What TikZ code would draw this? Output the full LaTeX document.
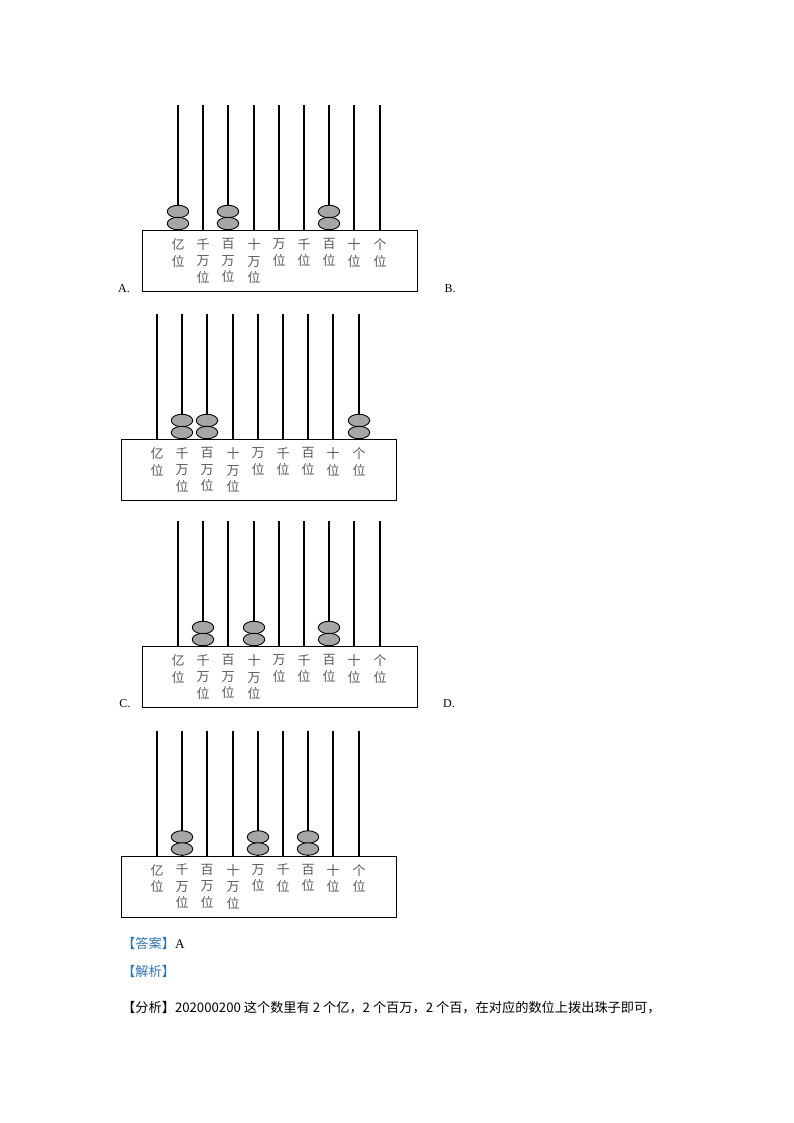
\documentclass[tikz,border=0pt]{standalone}
\usepackage{fontspec}
\setmainfont{Liberation Serif}
\newfontfamily\cjk{Noto Sans CJK SC}
\usepackage{xcolor}
\usetikzlibrary{positioning,shapes.geometric}
\definecolor{ansblue}{RGB}{46,116,181}
\definecolor{labgray}{RGB}{89,89,89}
\definecolor{beadgray}{RGB}{166,166,166}

% one abacus: name, left x, top y of the frame, rods with beads
\newcommand{\suanpan}[4]{%
  \node[frame,anchor=north west] (#1) at (#2,#3) {};
  \foreach \i/\t in {0/{亿\\位},1/{千\\万\\位},2/{百\\万\\位},3/{十\\万\\位},4/{万\\位},5/{千\\位},6/{百\\位},7/{十\\位},8/{个\\位}}{
    \coordinate (#1-t\i) at ({round(#2+36.3+25.2*\i)},{#3-125});
    \coordinate (#1-b\i) at ({round(#2+36.3+25.2*\i)},#3);
    \draw[rod] (#1-t\i) -- (#1-b\i);
    \node[lab] (#1-l\i) at ({round(#2+36.3+25.2*\i)},{#3+8.5}) {\t};
  }
  \foreach \j in {#4}{
    \node[bead] (#1-u\j) at ({round(#2+36.3+25.2*\j)},{#3-18.5}) {};
    \node[bead] (#1-d\j) at ({round(#2+36.3+25.2*\j)},{#3-6.5}) {};
  }
}

\begin{document}
\begin{tikzpicture}[x=1pt,y=-1pt,
    frame/.style={draw,line width=1.4pt,minimum width=275pt,minimum height=61pt,inner sep=0pt},
    rod/.style={line width=1.6pt},
    bead/.style={draw,ellipse,fill=beadgray,line width=0.9pt,minimum width=21.5pt,minimum height=12.5pt,inner sep=0pt},
    lab/.style={anchor=north,align=center,inner sep=0pt,text=labgray,font=\fontsize{13}{16.5}\selectfont\cjk},
    opt/.style={inner sep=0pt,font=\fontsize{12}{14}\selectfont},
    txt/.style={anchor=west,inner sep=0pt,font=\fontsize{13.2}{17}\selectfont\cjk}]
    \useasboundingbox (0,0) rectangle (794,1123);

    \suanpan{sa}{141.7}{230}{0,2,6}
    \node[opt] (la) at (124,289) {A.};
    \node[opt] (lb) at (450,289) {B.};

    \suanpan{sb}{120.7}{439}{1,2,8}

    \suanpan{sc}{141.7}{646}{1,3,6}
    \node[opt] (lc) at (125,704) {C.};
    \node[opt] (ld) at (449,704) {D.};

    \suanpan{sd}{120.7}{855.5}{1,4,6}

    \node[txt] (daan) at (122,943) {\textcolor{ansblue}{【答案】}{\rmfamily A}};
    \node[txt] (jiexi) at (122,971) {\textcolor{ansblue}{【解析】}};
    \node[txt] (fenxi) at (122,1008) {【分析】202000200 这个数里有 2 个亿，2 个百万，2 个百，在对应的数位上拨出珠子即可，};
\end{tikzpicture}
\end{document}
